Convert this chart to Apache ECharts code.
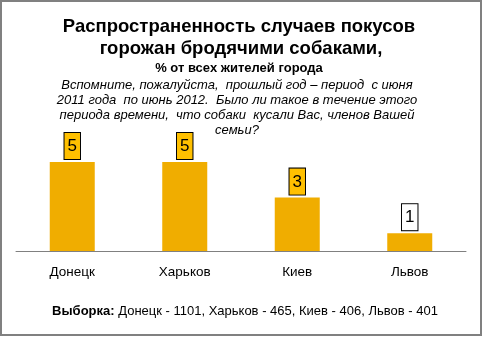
<!DOCTYPE html>
<html><head><meta charset="utf-8">
<script src="https://cdn.jsdelivr.net/npm/echarts@6/dist/echarts.min.js"></script>
<style>html,body{margin:0;padding:0;background:#fff}#c{width:483px;height:337px}</style>
</head><body><div id="c"></div>
<script>
const categories = ['Донецк', 'Харьков', 'Киев', 'Львов'];
const values = [5, 5, 3, 1];
const labelBg = ['#FFC000', '#FFC000', '#FFC000', '#FFFFFF'];
const titleLines = ['Распространенность случаев покусов', 'горожан бродячими собаками,'];
const subtitle = '% от всех жителей города';
const questionLines = [
  'Вспомните, пожалуйста,  прошлый год – период  с июня',
  '2011 года  по июнь 2012.  Было ли такое в течение этого',
  'периода времени,  что собаки  кусали Вас, членов Вашей',
  'семьи?'
];
const sampleLabel = 'Выборка:';
const sampleText = ' Донецк - 1101, Харьков - 465, Киев - 406, Львов - 401';

const chart = echarts.init(document.getElementById('c'));
const ff = '"Liberation Sans", Arial, sans-serif';
const graphics = [
  {type:'rect', shape:{x:1,y:1,width:480,height:334}, style:{fill:'none', stroke:'#808080', lineWidth:2}, z:-1},
  {type:'text', x:239, y:27, style:{text:titleLines[0], font:'bold 18.5px '+ff, fill:'#000', align:'center', verticalAlign:'middle'}},
  {type:'text', x:241, y:49, style:{text:titleLines[1], font:'bold 18.5px '+ff, fill:'#000', align:'center', verticalAlign:'middle'}},
  {type:'text', x:239, y:68, style:{text:subtitle, font:'bold 13px '+ff, fill:'#000', align:'center', verticalAlign:'middle'}}
];
questionLines.forEach((t, i) => {
  graphics.push({type:'text', x:237, y:85 + i*15, style:{text:t, font:'italic 13px '+ff, fill:'#000', align:'center', verticalAlign:'middle'}});
});
graphics.push({type:'text', x:245, y:311, style:{
  text:'{b|'+sampleLabel+'}{n|'+sampleText+'}', align:'center', verticalAlign:'middle',
  rich:{b:{font:'bold 13px '+ff, fill:'#000'}, n:{font:'13px '+ff, fill:'#000'}}
}});

chart.setOption({
  animation:false,
  backgroundColor:'#fff',
  graphic: graphics,
  grid:{left:16, right:17, top:162, bottom:86},
  xAxis:{type:'category', data:categories,
    axisLine:{lineStyle:{color:'#808080', width:1}}, axisTick:{show:false},
    axisLabel:{color:'#000', fontSize:13.5, fontFamily:ff, margin:14}},
  yAxis:{type:'value', min:0, max:5, show:false, splitLine:{show:false}},
  series:[{type:'bar', barWidth:45,
    data: values.map((v,i)=>({value:v, label:{backgroundColor:labelBg[i]}})),
    itemStyle:{color:'#F0AD00'},
    label:{show:true, position:'top', distance:3, color:'#000', fontSize:17, fontFamily:ff,
      borderColor:'#000', borderWidth:1, padding:[4,3,3,3], lineHeight:19}
  }]
});
</script></body></html>
